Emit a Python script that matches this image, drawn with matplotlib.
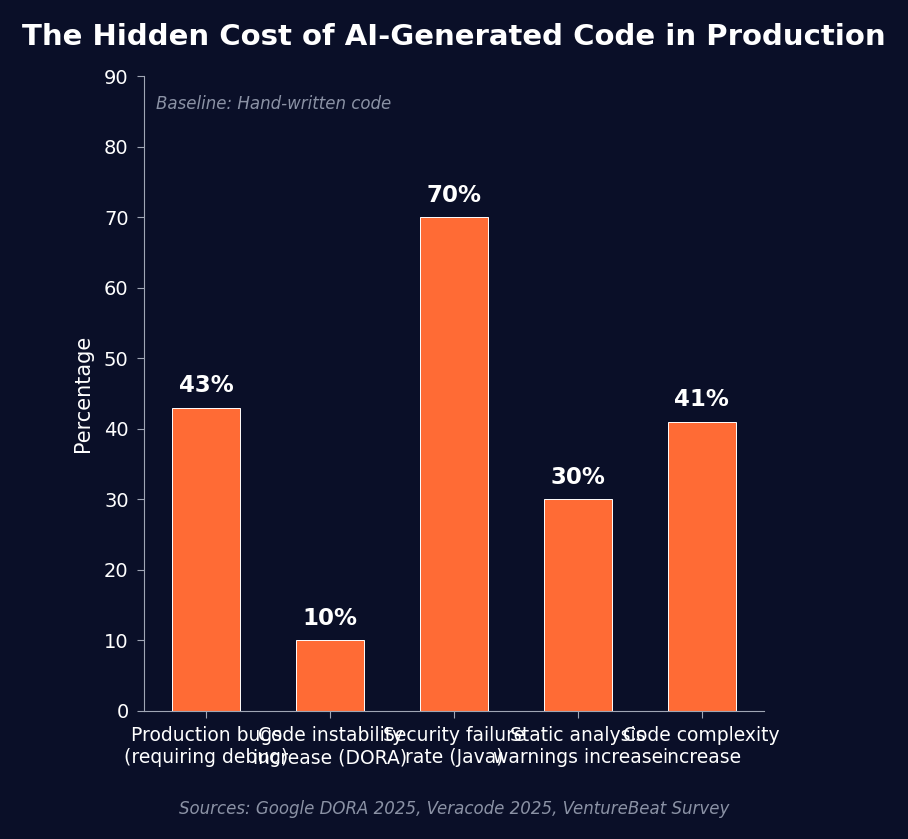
import matplotlib.pyplot as plt
import numpy as np

# dati
categories = ['Production bugs\n(requiring debug)', 'Code instability\nincrease (DORA)',
              'Security failure\nrate (Java)', 'Static analysis\nwarnings increase',
              'Code complexity\nincrease']
values = [43, 10, 70, 30, 41]

bg = '#0a0f28'
bar_color = '#ff6b35'
grey = '#8b92a5'
spine_grey = '#a0a6b5'

fig, ax = plt.subplots(figsize=(9.08, 8.39), dpi=100)
fig.patch.set_facecolor(bg)
ax.set_facecolor(bg)
fig.subplots_adjust(left=0.1586, right=0.8414, top=0.9094, bottom=0.1526)

x = np.arange(len(categories))
bars = ax.bar(x, values, width=0.55, color=bar_color, edgecolor='white', linewidth=0.7)

# etichette sopra le barre
for b, v in zip(bars, values):
    ax.text(b.get_x() + b.get_width() / 2, v + 1.5, f'{v}%', ha='center', va='bottom',
            color='white', fontsize=16.5, fontweight='bold')

ax.set_ylim(0, 90)
ax.set_xticks(x)
ax.set_xticklabels(categories, fontsize=13.5, color='white')
ax.tick_params(axis='x', colors=spine_grey, labelcolor='white', length=5, pad=6)
ax.tick_params(axis='y', colors=spine_grey, labelcolor='white', labelsize=14, length=5, pad=6)
ax.set_ylabel('Percentage', color='white', fontsize=15, labelpad=8)

for s in ['top', 'right']:
    ax.spines[s].set_visible(False)
for s in ['left', 'bottom']:
    ax.spines[s].set_color(spine_grey)

ax.text(0.02, 0.97, 'Baseline: Hand-written code', transform=ax.transAxes,
        color=grey, fontsize=12, style='italic', va='top')

fig.suptitle('The Hidden Cost of AI-Generated Code in Production', color='white',
             fontsize=21, fontweight='bold', x=0.5, y=0.972)
fig.text(0.5, 0.03, 'Sources: Google DORA 2025, Veracode 2025, VentureBeat Survey',
         ha='center', color=grey, fontsize=12, style='italic')

plt.savefig('out.png', dpi=100, facecolor=bg)
